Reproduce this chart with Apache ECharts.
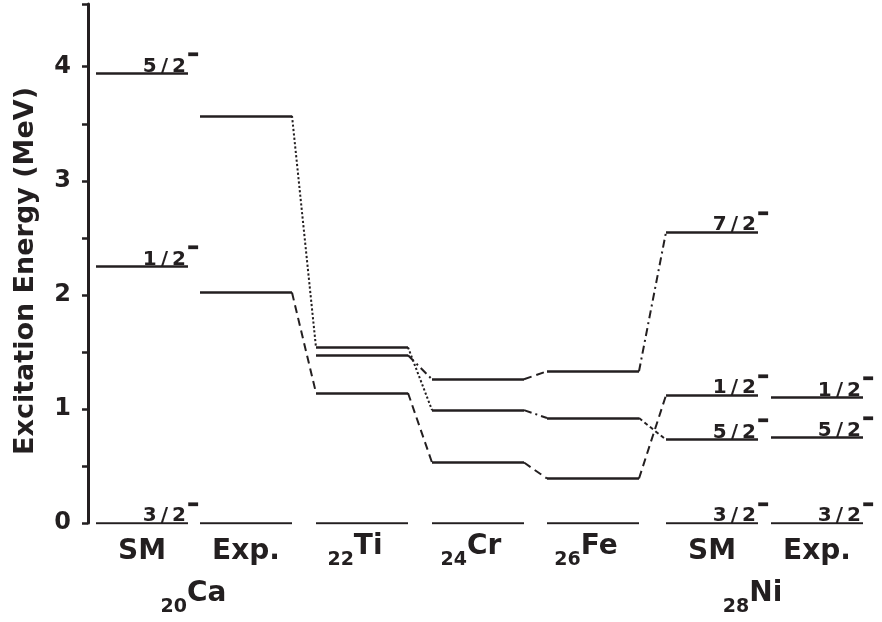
<!DOCTYPE html>
<html><head><meta charset="utf-8">
<script src="https://cdn.jsdelivr.net/npm/echarts@6/dist/echarts.min.js"></script>
<style>html,body{margin:0;padding:0;background:#fff}#c{width:882px;height:622px}</style>
</head><body><div id="c"></div>
<script>
// ---------- data ----------
const columnLabels = ['SM', 'Exp.', 'Ti', 'Cr', 'Fe', 'SM', 'Exp.'];
const columnSubscripts = ['', '', '22', '24', '26', '', ''];
const groupNames = ['Ca', 'Ni'];
const groupSubscripts = ['20', '28'];
const caSM = [0, 2.25, 3.94];
const caSMSpins = ['3/2', '1/2', '5/2'];
const caExp = [0, 2.02, 3.57];
const tiLevels = [0, 1.14, 1.47, 1.54];
const crLevels = [0, 0.53, 0.99, 1.26];
const feLevels = [0, 0.39, 0.92, 1.33];
const niSM = [0, 0.73, 1.12, 2.55];
const niSMSpins = ['3/2', '5/2', '1/2', '7/2'];
const niExp = [0, 0.75, 1.10];
const niExpSpins = ['3/2', '5/2', '1/2'];
const yTickLabels = [0, 1, 2, 3, 4];
const yTickMarks = [0, 0.5, 1, 1.5, 2, 2.5, 3, 3.5, 4, 4.55];
// level chains: [column index, level index]
const chainHalf = [[1, 1], [2, 1], [3, 1], [4, 1], [5, 2]];
const chainFiveHalf = [[1, 2], [2, 3], [3, 2], [4, 2], [5, 1]];
const chainSevenHalf = [[2, 2], [3, 3], [4, 3], [5, 3]];

// ---------- layout / style ----------
const columns = [caSM, caExp, tiLevels, crLevels, feLevels, niSM, niExp];
const spinLabels = [caSMSpins, null, null, null, null, niSMSpins, niExpSpins];
const colStart = [8, 112, 228, 344, 459, 578, 683];
const levelWidth = 92;
const groupCenters = [105.5, 664.5];
const FONT = 'DejaVu Sans';
const INK = '#231f20';
const DASH = [8, 5];
const DOT = [2.2, 2.2];
const DASHDOT = [8, 4, 2, 4];
const SHORTDASH = [4, 3];
const chainStyles = [
  [chainHalf, [DASH, DASH, DASH, DASH]],
  [chainFiveHalf, [DOT, DOT, DASHDOT, SHORTDASH]],
  [chainSevenHalf, [DASHDOT, DASH, DASHDOT]]
];

const levelLines = [];
columns.forEach((lv, c) => lv.forEach(v => {
  levelLines.push({ coords: [[colStart[c], v], [colStart[c] + levelWidth, v]] });
}));

const connectors = [];
chainStyles.forEach(([chain, styles]) => {
  for (let i = 0; i < chain.length - 1; i++) {
    const [c1, l1] = chain[i], [c2, l2] = chain[i + 1];
    connectors.push({
      coords: [[colStart[c1] + levelWidth, columns[c1][l1]], [colStart[c2], columns[c2][l2]]],
      lineStyle: { type: styles[i] }
    });
  }
});

const spinData = [];
columns.forEach((lv, c) => {
  if (!spinLabels[c]) return;
  lv.forEach((v, i) => spinData.push({ value: [colStart[c] + levelWidth, v], spin: spinLabels[c][i] }));
});

const bottomData = columnLabels.map((t, c) => ({
  value: [colStart[c] + levelWidth / 2, 0], name: t, sub: columnSubscripts[c],
  label: { offset: columnSubscripts[c] ? [-7, -5] : [0, 0] }
}));
const groupData = groupNames.map((t, g) => ({
  value: [groupCenters[g], 0], name: t, sub: groupSubscripts[g]
}));

const richBottom = {
  b: { fontSize: 28, fontWeight: 'bold', fontFamily: FONT, color: INK, lineHeight: 37, verticalAlign: 'top' },
  s: { fontSize: 19, fontWeight: 'bold', fontFamily: FONT, color: INK, lineHeight: 37, verticalAlign: 'bottom' }
};
const fmtBottom = p => p.data.sub ? '{s|' + p.data.sub + '}{b|' + p.data.name + '}' : '{b|' + p.data.name + '}';
const hidden = { color: 'rgba(0,0,0,0)' };

const chart = echarts.init(document.getElementById('c'), null, { renderer: 'canvas' });
chart.setOption({
  animation: false,
  backgroundColor: '#fff',
  grid: { left: 88, right: 0, top: 4, bottom: 99, containLabel: false },
  xAxis: { type: 'value', min: 0, max: 794, show: false },
  yAxis: {
    type: 'value', min: 0, max: 4.55,
    axisLine: { show: true, lineStyle: { color: INK, width: 3 } },
    axisTick: { show: true, length: 6, customValues: yTickMarks, lineStyle: { color: INK, width: 2.5 } },
    splitLine: { show: false },
    axisLabel: {
      customValues: yTickLabels,
      fontSize: 24, fontWeight: 'bold', fontFamily: FONT, color: INK, margin: 17
    },
    name: 'Excitation Energy (MeV)', nameLocation: 'middle', nameGap: 49,
    nameTextStyle: { fontSize: 27, fontWeight: 'bold', fontFamily: FONT, color: INK, padding: [0, 15, 0, 0] }
  },
  series: [
    {
      type: 'lines', coordinateSystem: 'cartesian2d', polyline: false, silent: true,
      lineStyle: { color: INK, width: 2.6, opacity: 1 }, data: levelLines
    },
    {
      type: 'lines', coordinateSystem: 'cartesian2d', polyline: false, silent: true,
      lineStyle: { color: INK, width: 2, opacity: 1 }, data: connectors
    },
    {
      type: 'scatter', symbol: 'rect', symbolSize: 1, itemStyle: hidden,
      silent: true, data: spinData,
      label: {
        show: true, position: 'inside', align: 'right', verticalAlign: 'bottom', offset: [10, 3],
        color: INK, textBorderWidth: 0, opacity: 1,
        formatter: p => '{n|' + p.data.spin.split('/').join('\u2009/\u2009') + '}{m|\u2212}',
        rich: {
          n: { fontSize: 20, fontWeight: 'bold', fontFamily: FONT, color: INK, lineHeight: 27.5, verticalAlign: 'bottom' },
          m: { fontSize: 12, fontWeight: 'bold', fontFamily: FONT, color: INK, lineHeight: 8, verticalAlign: 'top',
               textBorderColor: INK, textBorderWidth: 2.4, padding: [0, 0, 0, 2] }
        }
      }
    },
    {
      type: 'scatter', symbol: 'rect', symbolSize: 1, itemStyle: hidden,
      silent: true, data: bottomData,
      label: { show: true, position: 'bottom', distance: 14, color: INK, textBorderWidth: 0, opacity: 1,
               formatter: fmtBottom, rich: richBottom }
    },
    {
      type: 'scatter', symbol: 'rect', symbolSize: 1, itemStyle: hidden,
      silent: true, data: groupData,
      label: { show: true, position: 'bottom', distance: 56, color: INK, textBorderWidth: 0, opacity: 1,
               formatter: fmtBottom, rich: richBottom }
    }
  ]
});
</script></body></html>
